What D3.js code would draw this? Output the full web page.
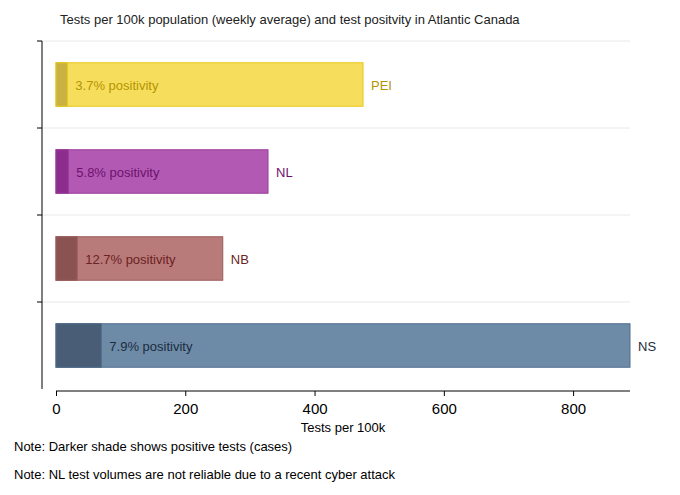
<!DOCTYPE html>
<html><head><meta charset="utf-8">
<script src="https://cdn.jsdelivr.net/npm/d3@7"></script>
<style>body{margin:0;background:#fff}text{font-family:"Liberation Sans",Arial,sans-serif}</style>
</head><body><svg id="c" width="680" height="495"></svg>
<script>
// data
var provinces = ["PEI", "NL", "NB", "NS"];
var tests = [475, 328, 258, 888];
var positivity = [3.7, 5.8, 12.7, 7.9];
var xTicks = [0, 200, 400, 600, 800];

var fills = ["#f7dd5c", "#b25ab3", "#b97a7a", "#6d8ba7"];
var darks = ["#c9b243", "#8c2d8d", "#8b5252", "#4a5d76"];
var strokes = ["#e6c81a", "#9a3c9a", "#9a5c5c", "#506d8c"];
var labelCol = ["#b39500", "#6e116e", "#6b2222", "#1c2b40"];

var svg = d3.select("#c");
var x = d3.scaleLinear().domain([0, 888]).range([56, 630]);
var y = d3.scaleBand().domain(provinces).range([41, 389]).paddingInner(0.5).paddingOuter(0.25);

svg.append("text").attr("x", 60).attr("y", 24).attr("font-size", 13).attr("fill", "#222")
  .text("Tests per 100k population (weekly average) and test positvity in Atlantic Canada");

// gridlines at band boundaries
var bounds = provinces.map((p, i) => 41 + i * 87);
svg.selectAll(".grid").data(bounds).enter().append("line")
  .attr("x1", 42).attr("x2", 630).attr("y1", d => d).attr("y2", d => d)
  .attr("stroke", "#e8e8e8");
svg.append("line").attr("x1", 42).attr("x2", 42).attr("y1", 41).attr("y2", 389).attr("stroke", "#000");
svg.selectAll(".yt").data(bounds).enter().append("line")
  .attr("x1", 37).attr("x2", 42).attr("y1", d => d).attr("y2", d => d).attr("stroke", "#000");

var g = svg.selectAll(".bar").data(provinces).enter().append("g");
g.append("rect").attr("x", x(0)).attr("y", p => y(p)).attr("height", y.bandwidth())
  .attr("width", (p, i) => x(tests[i]) - x(0)).attr("fill", (p, i) => fills[i])
  .attr("stroke", (p, i) => strokes[i]);
g.append("rect").attr("x", x(0)).attr("y", p => y(p)).attr("height", y.bandwidth())
  .attr("width", (p, i) => x(tests[i] * positivity[i] / 100) - x(0)).attr("fill", (p, i) => darks[i])
  .attr("stroke", (p, i) => strokes[i]);
g.append("text").attr("x", (p, i) => x(tests[i] * positivity[i] / 100) + 8)
  .attr("y", p => y(p) + y.bandwidth() / 2 + 5).attr("font-size", 13).attr("fill", (p, i) => labelCol[i])
  .text((p, i) => positivity[i] + "% positivity");
g.append("text").attr("x", (p, i) => x(tests[i]) + 8)
  .attr("y", p => y(p) + y.bandwidth() / 2 + 5).attr("font-size", 13).attr("fill", (p, i) => labelCol[i])
  .text(p => p);

var xa = svg.append("g").attr("transform", "translate(0,391)")
  .call(d3.axisBottom(x).tickValues(xTicks).tickSize(5).tickSizeOuter(0));
xa.select(".domain").attr("d", "M56,0H630");
xa.selectAll("text").attr("font-size", 15).attr("fill", "#000").attr("dy", "1em");
svg.append("text").attr("x", 343).attr("y", 432).attr("text-anchor", "middle").attr("font-size", 13).text("Tests per 100k");
svg.append("text").attr("x", 14).attr("y", 451).attr("font-size", 13).text("Note: Darker shade shows positive tests (cases)");
svg.append("text").attr("x", 14).attr("y", 479).attr("font-size", 13).text("Note: NL test volumes are not reliable due to a recent cyber attack");
</script></body></html>
